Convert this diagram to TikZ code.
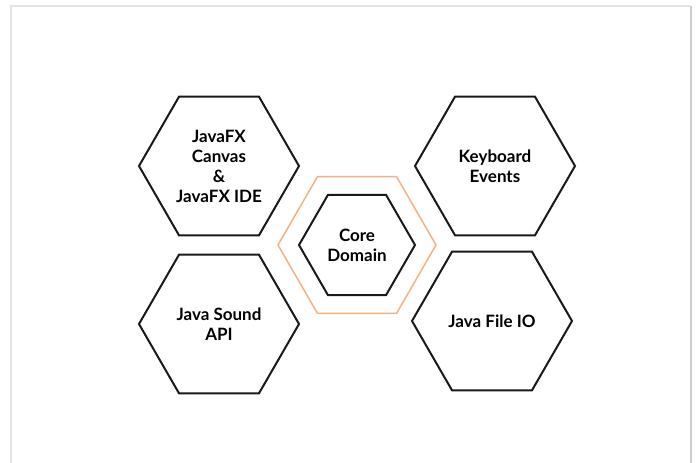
\documentclass[tikz,border=0pt]{standalone}
\usepackage{fontspec}
\setmainfont{Lato}
\usetikzlibrary{shapes.geometric}
\definecolor{coreorange}{RGB}{244,177,131}
\definecolor{framegray}{RGB}{228,228,228}
\definecolor{shadegray}{RGB}{205,205,205}
\tikzset{
	hexa/.style={regular polygon, regular polygon sides=6,
		draw=black!90, line width=2pt, inner sep=0pt, minimum size=160pt,
		align=center, font=\bfseries\fontsize{17}{20}\selectfont},
	core/.style={hexa, minimum size=116pt},
	ring/.style={regular polygon, regular polygon sides=6,
		draw=coreorange, line width=1.5pt, inner sep=0pt, minimum size=158pt},
}

\begin{document}
\begin{tikzpicture}[x=1pt,y=-1pt]
	\useasboundingbox (0,0) rectangle (696,463);
	% page frame
	\draw[framegray, line width=1.5pt] (11,470) -- (11,6) -- (690,6);
	\draw[shadegray, line width=2pt] (691,6) -- (691,470);

	% centre
	\node[ring] (ring) at (357,245) {};
	\node[core] (core) at (357,245) {Core\\Domain};

	% outer hexagons
	\node[hexa] (fx) at (219,166) {JavaFX\\Canvas\\\&\\JavaFX IDE};
	\node[hexa] (keys) at (495,166) {Keyboard\\Events};
	\node[hexa] (sound) at (219,324) {Java Sound\\API};
	\node[hexa] (fileio) at (492,321) {Java File IO};
\end{tikzpicture}
\end{document}
